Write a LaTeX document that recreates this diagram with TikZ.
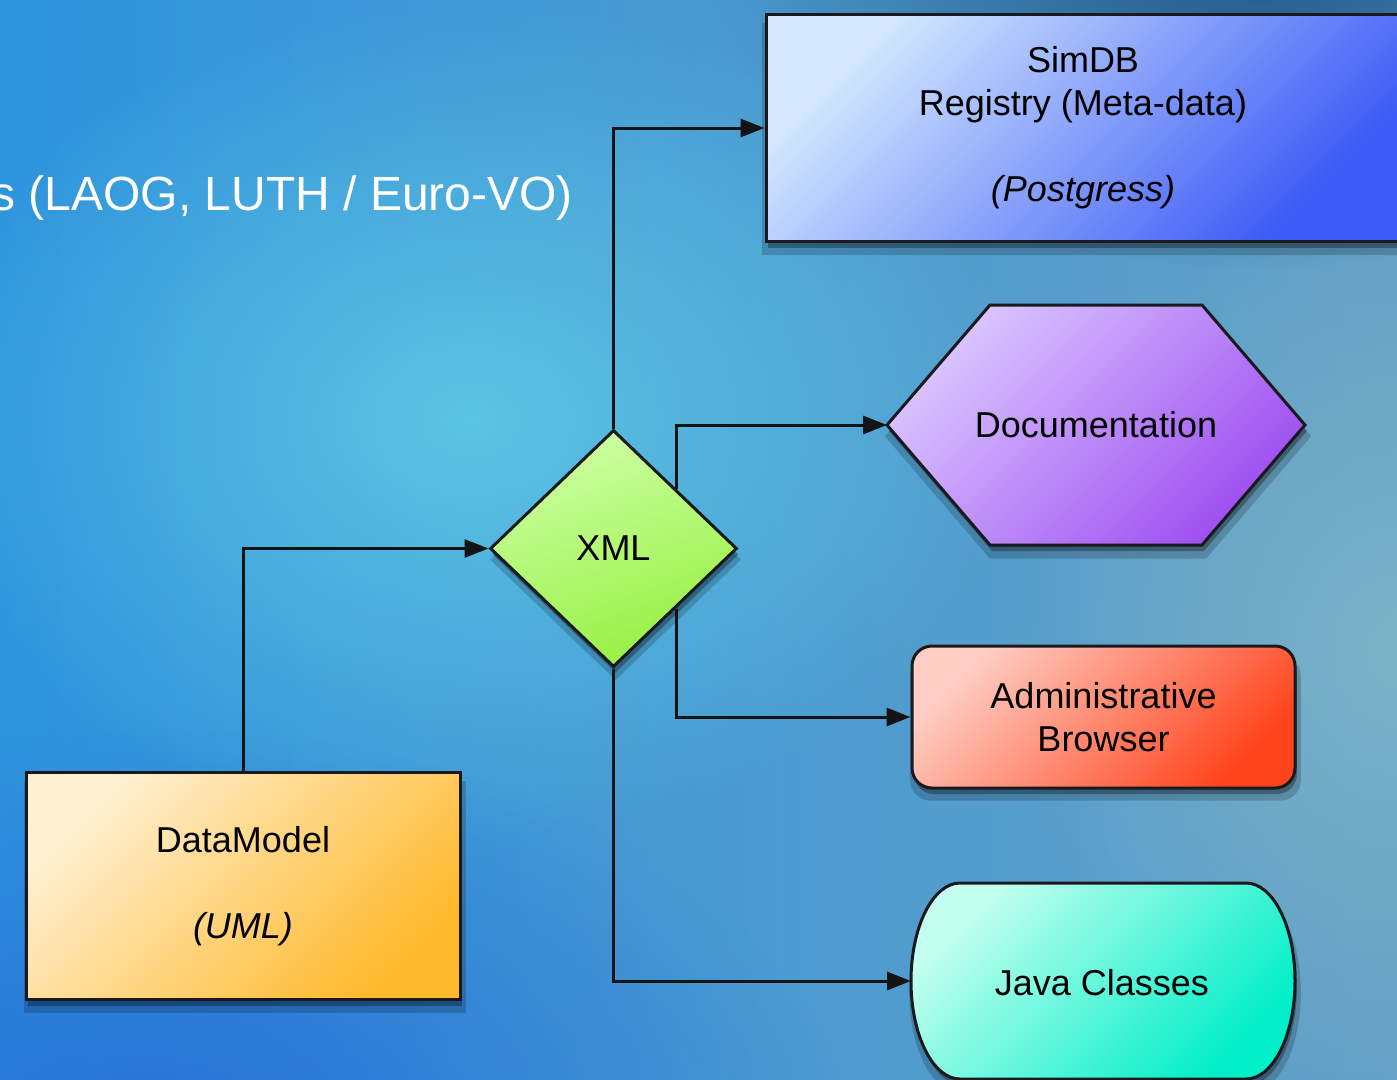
\documentclass[tikz,border=0pt]{standalone}
\usepackage{fontspec}
\setmainfont{Liberation Sans}
\usetikzlibrary{arrows.meta,shapes.geometric,shadows,fadings}
\definecolor{bgL}{RGB}{45,148,222}
\definecolor{bgR}{RGB}{100,160,198}
\definecolor{glow}{RGB}{92,196,228}
\definecolor{bgBL}{RGB}{40,112,215}
\definecolor{bgTR}{RGB}{30,85,135}
\definecolor{bgRM}{RGB}{122,178,198}
\definecolor{edgecol}{RGB}{25,25,30}
\definecolor{linecol}{RGB}{20,20,20}
\definecolor{simA}{RGB}{212,232,255}
\definecolor{simB}{RGB}{60,90,245}
\definecolor{docA}{RGB}{218,198,255}
\definecolor{docB}{RGB}{158,78,240}
\definecolor{xmlA}{RGB}{205,255,165}
\definecolor{xmlB}{RGB}{150,240,65}
\definecolor{admA}{RGB}{255,205,195}
\definecolor{admB}{RGB}{255,68,28}
\definecolor{javA}{RGB}{195,255,238}
\definecolor{javB}{RGB}{0,238,200}
\definecolor{dmA}{RGB}{255,240,210}
\definecolor{dmB}{RGB}{255,185,45}
\tikzfading[name=radfade, inner color=transparent!0, outer color=transparent!100]
\begin{document}
\begin{tikzpicture}[x=1pt,y=-1pt,
  softshadow/.style={
    drop shadow={shadow xshift=2pt, shadow yshift=-11pt, shadow scale=1.02, opacity=0.18, fill=black},
    drop shadow={shadow xshift=2pt, shadow yshift=-6pt, opacity=0.3, fill=black}},
  shapebox/.style={draw=edgecol, line width=3pt, softshadow,
    font=\fontsize{36}{43}\selectfont, align=center, inner sep=0pt},
  conn/.style={draw=linecol, line width=3pt, -{Triangle[length=24pt,width=18pt]}},
  lbl/.style={font=\fontsize{36}{43}\selectfont, align=center, inner sep=0pt}]
\useasboundingbox (0,0) rectangle (1397,1079);
% background
\fill[left color=bgL, right color=bgR] (0,0) rectangle (1397,1079);
\fill[bgBL, path fading=radfade] (150,1150) ellipse (700 and 420);
\fill[bgRM, path fading=radfade] (1400,650) ellipse (400 and 450);
\fill[bgTR, path fading=radfade] (1250,-60) ellipse (550 and 330);
\fill[glow, path fading=radfade] (470,420) ellipse (560 and 420);
% title
\node[anchor=base east, text=white, inner sep=0pt, font=\fontsize{48}{58}\selectfont] (title) at (573,210) {s (LAOG, LUTH / Euro-VO)};
% nodes
\node[shapebox, rectangle, minimum width=634pt, minimum height=227pt,
  top color=simA, bottom color=simB, shading angle=45] (simdb) at (1083,128)
  {SimDB\\Registry (Meta-data)\\[43pt]\textit{(Postgress)}};
\node[shapebox, rectangle, minimum width=434pt, minimum height=227pt,
  top color=dmA, bottom color=dmB, shading angle=45] (dm) at (243,886)
  {DataModel\\[43pt]\textit{(UML)}};
\node[shapebox, diamond, minimum width=247pt, minimum height=237pt,
  top color=xmlA, bottom color=xmlB, shading angle=20] (xml) at (613.5,548.5) {XML};
\node[shapebox, rectangle, rounded corners=20pt, minimum width=383pt, minimum height=142pt,
  top color=admA, bottom color=admB, shading angle=45] (adm) at (1103.5,717)
  {Administrative\\Browser};
% hexagon
\path[draw=edgecol, line width=3pt, top color=docA, bottom color=docB, shading angle=45, softshadow]
  (887,425) -- (990,305) -- (1202,305) -- (1305,425) -- (1202,545) -- (990,545) -- cycle;
\node[lbl] (doc) at (1096,425) {Documentation};
\coordinate (docL) at (887,425);
% java
\path[draw=edgecol, line width=3pt, top color=javA, bottom color=javB, shading angle=45, softshadow]
  (960,883) -- (1246,883) arc[start angle=90, end angle=-90, x radius=49pt, y radius=98pt]
  -- (960,1079) arc[start angle=-90, end angle=-270, x radius=49pt, y radius=98pt] -- cycle;
\node[lbl] (java) at (1102,983) {Java Classes};
\coordinate (javaL) at (911,981);
% connectors
\draw[conn] (dm.north) |- (xml.west);
\draw[conn] (xml.north) |- (simdb.west);
\draw[conn] (xml.north east) |- (docL);
\draw[conn] (xml.south east) |- (adm.west);
\draw[conn] (xml.south) |- (javaL);
\end{tikzpicture}
\end{document}
